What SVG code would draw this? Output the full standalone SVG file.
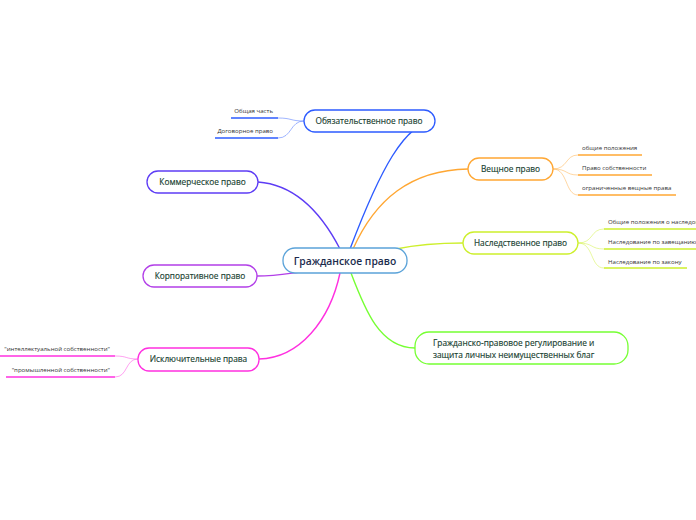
<svg xmlns="http://www.w3.org/2000/svg" width="696" height="520" viewBox="0 0 696 520">
<style>
.n{fill:#fff;stroke-width:1.3}
.t{font-family:"Open Sans","Noto Sans","Liberation Sans",sans-serif;font-size:8.3px;fill:#17402f;stroke:#17402f;stroke-width:0.15}
.c{font-family:"Open Sans","Noto Sans","Liberation Sans",sans-serif;font-size:10.3px;font-weight:600;fill:#1b2b4d}
.s{font-family:"Open Sans","Noto Sans","Liberation Sans",sans-serif;font-size:6.1px;fill:#333}
.l{fill:none;stroke-width:1.4}
.k{fill:none;stroke-width:1;opacity:.45}
.u{stroke-width:1.6}
</style>
<rect width="696" height="520" fill="#fff"/>
<g id="connectors">
<path class="l" stroke="#2d5bff" d="M350,249 C380,170 405,122 435,121"/>
<path class="l" stroke="#ffa733" d="M353,249 C375,200 410,170 468,169"/>
<path class="l" stroke="#cdef2c" d="M396,249 C420,244 440,243 463,243"/>
<path class="l" stroke="#76ff33" d="M351,273 C365,310 380,348 415,348"/>
<path class="l" stroke="#ff30e0" d="M340,273 C330,320 300,358 259,359"/>
<path class="l" stroke="#b23fe8" d="M257,276 C275,276 285,274 300,272"/>
<path class="l" stroke="#5d3cf5" d="M258,182 C300,185 325,220 340,249"/>
<path class="k" stroke="#2d5bff" d="M304,121 C290,121 292,118 278,118 M304,121 C290,121 292,138 278,138"/>
<path class="k" stroke="#ffa733" d="M553,169 C568,169 565,155 578,155 M553,169 C568,169 565,175 578,175 M553,169 C568,169 565,195 578,195"/>
<path class="k" stroke="#cdef2c" d="M578,243 C594,243 590,229 604,229 M578,243 C594,243 590,249 604,249 M578,243 C594,243 590,268 604,268"/>
<path class="k" stroke="#ff30e0" d="M138,359 C125,359 128,356 115,356 M138,359 C125,359 128,377 115,377"/>
</g>
<g id="central">
<rect class="n" x="283" y="248" width="124" height="25" rx="12" stroke="#5ba3d9"/>
<text class="c" x="345" y="264.5" text-anchor="middle">Гражданское право</text>
</g>
<g id="obyaz">
<rect class="n" x="304" y="110" width="131" height="22" rx="11" stroke="#2d5bff"/>
<text class="t" x="369" y="124" text-anchor="middle">Обязательственное право</text>
</g>
<g id="obyaz-1">
<line class="u" x1="231" y1="118" x2="278" y2="118" stroke="#2d5bff"/>
<text class="s" x="273" y="113" text-anchor="end">Общая часть</text>
</g>
<g id="obyaz-2">
<line class="u" x1="215" y1="138" x2="278" y2="138" stroke="#2d5bff"/>
<text class="s" x="273" y="133" text-anchor="end">Договорное право</text>
</g>
<g id="veshch">
<rect class="n" x="468" y="158" width="85" height="22" rx="11" stroke="#ffa733"/>
<text class="t" x="510.5" y="172" text-anchor="middle">Вещное право</text>
</g>
<g id="veshch-1">
<line class="u" x1="578" y1="155" x2="642" y2="155" stroke="#ffa733"/>
<text class="s" x="582" y="150">общие положения</text>
</g>
<g id="veshch-2">
<line class="u" x1="578" y1="175" x2="652" y2="175" stroke="#ffa733"/>
<text class="s" x="582" y="170">Право собственности</text>
</g>
<g id="veshch-3">
<line class="u" x1="578" y1="195" x2="676" y2="195" stroke="#ffa733"/>
<text class="s" x="582" y="190">ограниченные вещные права</text>
</g>
<g id="nasl">
<rect class="n" x="463" y="232" width="115" height="22" rx="11" stroke="#cdef2c"/>
<text class="t" x="520.5" y="246" text-anchor="middle">Наследственное право</text>
</g>
<g id="nasl-1">
<line class="u" x1="604" y1="229" x2="700" y2="229" stroke="#cdef2c"/>
<text class="s" x="608" y="224">Общие положения о наследовании</text>
</g>
<g id="nasl-2">
<line class="u" x1="604" y1="249" x2="700" y2="249" stroke="#cdef2c"/>
<text class="s" x="608" y="244">Наследование по завещанию</text>
</g>
<g id="nasl-3">
<line class="u" x1="604" y1="268" x2="687" y2="268" stroke="#cdef2c"/>
<text class="s" x="608" y="263.5">Наследование по закону</text>
</g>
<g id="grazhd">
<rect class="n" x="415" y="332" width="213" height="32" rx="14" stroke="#76ff33"/>
<text class="t" x="433" y="346">Гражданско-правовое регулирование и</text>
<text class="t" x="433" y="357.5">защита личных неимущественных благ</text>
</g>
<g id="kommerch">
<rect class="n" x="147" y="171" width="111" height="22" rx="11" stroke="#5d3cf5"/>
<text class="t" x="202.5" y="185" text-anchor="middle">Коммерческое право</text>
</g>
<g id="korpor">
<rect class="n" x="143" y="265" width="114" height="22" rx="11" stroke="#b23fe8"/>
<text class="t" x="200" y="279" text-anchor="middle">Корпоративное право</text>
</g>
<g id="isklyuch">
<rect class="n" x="138" y="348" width="121" height="23" rx="11" stroke="#ff30e0"/>
<text class="t" x="198.5" y="362" text-anchor="middle">Исключительные права</text>
</g>
<g id="isklyuch-1">
<line class="u" x1="0" y1="356" x2="115" y2="356" stroke="#ff30e0"/>
<text class="s" x="110" y="351" text-anchor="end">"интеллектуальной собственности"</text>
</g>
<g id="isklyuch-2">
<line class="u" x1="6" y1="377" x2="115" y2="377" stroke="#ff30e0"/>
<text class="s" x="110" y="372" text-anchor="end">"промышленной собственности"</text>
</g>
</svg>
